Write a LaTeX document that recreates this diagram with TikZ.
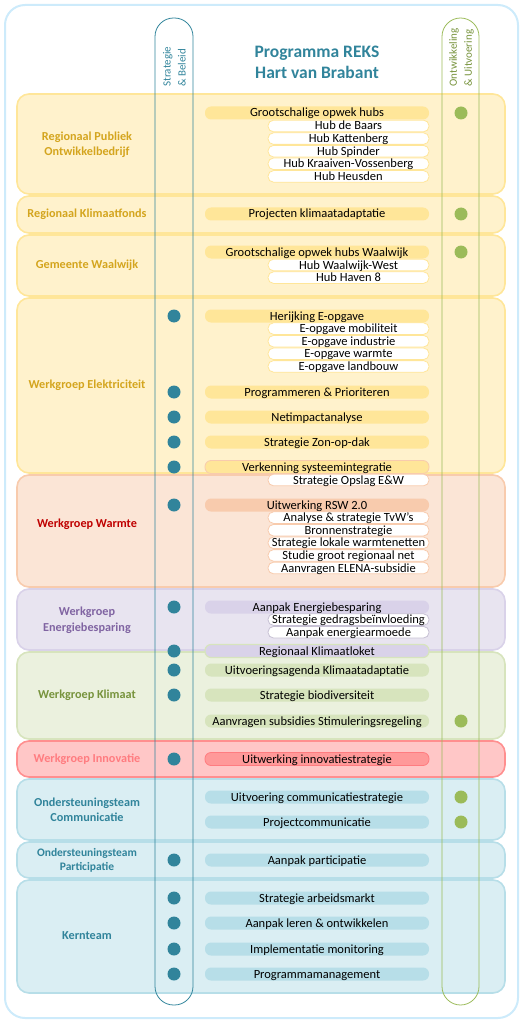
\documentclass[tikz,border=0pt]{standalone}
\usepackage{fontspec}
\setmainfont{Carlito}
\usepackage{xcolor}
\usepackage{tikz}

\definecolor{frame}{HTML}{CDEBFB}
\definecolor{reksteal}{HTML}{31849B}
\definecolor{reksgreen}{HTML}{9BBB59}
\definecolor{ylfill}{HTML}{FFF2CC}
\definecolor{ylline}{HTML}{FFE699}
\definecolor{yltext}{HTML}{D4A51E}
\definecolor{orfill}{HTML}{FBE5D6}
\definecolor{orline}{HTML}{F8CBAD}
\definecolor{lvfill}{HTML}{E8E4F0}
\definecolor{lvline}{HTML}{D9D2E9}
\definecolor{lvtext}{HTML}{8064A2}
\definecolor{gnfill}{HTML}{EBF1DE}
\definecolor{gnline}{HTML}{D7E4BD}
\definecolor{gntext}{HTML}{77933C}
\definecolor{pkfill}{HTML}{FFC7C7}
\definecolor{pkline}{HTML}{FF8F8F}
\definecolor{pkbar}{HTML}{FF9999}
\definecolor{pktext}{HTML}{FF7C80}
\definecolor{blfill}{HTML}{DAEEF3}
\definecolor{blline}{HTML}{B7DEE8}

\begin{document}
\begin{tikzpicture}[x=1pt, y=-1pt, font=\fontsize{12.5}{13}\selectfont,
    band/.style 2 args={fill=#1, draw=#2, line width=1.6pt, rounded corners=12pt},
    col/.style={draw=#1, line width=0.8pt, rounded corners=18.5pt},
    grp/.style={font=\fontsize{12.2}{15.5}\selectfont\bfseries, align=center, text=#1},
    bar/.style={fill=#1, minimum width=224pt, minimum height=13pt, inner sep=0pt,
        rounded corners=6pt, text height=9.5pt, text depth=1.5pt},
    sub/.style={fill=white, draw=#1, line width=0.8pt, minimum width=161pt,
        minimum height=11.6pt, inner sep=0pt, rounded corners=5.5pt, text height=9.5pt, text depth=1.5pt},
    sdot/.style={circle, fill=reksteal, minimum size=13pt, inner sep=0pt},
    odot/.style={circle, fill=reksgreen, minimum size=13pt, inner sep=0pt}]
\useasboundingbox (0,0) rectangle (531,1024);
% Frame
\draw[frame, line width=2pt, rounded corners=20pt] (5,5) rectangle (518,1018);
% Bands
\draw[band={ylfill}{ylline}] (17,94) rectangle (505,194);
\draw[band={ylfill}{ylline}] (17,196) rectangle (505,233);
\draw[band={ylfill}{ylline}] (17,235) rectangle (505,296);
\draw[band={ylfill}{ylline}] (17,298) rectangle (505,473);
\draw[band={orfill}{orline}] (17,475) rectangle (505,587);
\draw[band={lvfill}{lvline}] (17,589) rectangle (505,650);
\draw[band={gnfill}{gnline}] (17,652) rectangle (505,739);
\draw[band={pkfill}{pkline}] (17,741) rectangle (505,777);
\draw[band={blfill}{blline}] (17,779) rectangle (505,840);
\draw[band={blfill}{blline}] (17,842) rectangle (505,878);
\draw[band={blfill}{blline}] (17,880) rectangle (505,993);
% Columns
\draw[col=reksteal] (155,18) rectangle (193,1005);
\draw[col=reksgreen] (442,18) rectangle (479,1005);
\node[rotate=90, anchor=west, align=left, text=reksteal, font=\fontsize{11}{15}\selectfont] (strat) at (174.5,90) {Strategie\\\& Beleid};
\node[rotate=90, anchor=west, align=left, text=gntext, font=\fontsize{11}{15}\selectfont] (ontw) at (461.5,90) {Ontwikkeling\\\& Uitvoering};
\node[font=\fontsize{17.5}{21}\selectfont\bfseries, text=reksteal, align=center] (title) at (317,62) {Programma REKS\\Hart van Brabant};
% Groups
\node[grp=yltext] (g-rpo) at (87,145) {Regionaal Publiek\\Ontwikkelbedrijf};
\node[grp=yltext] (g-fonds) at (87,214) {Regionaal Klimaatfonds};
\node[grp=yltext] (g-waal) at (87,265) {Gemeente Waalwijk};
\node[grp=yltext] (g-elek) at (87,385) {Werkgroep Elektriciteit};
\node[grp=red!75!black] (g-warm) at (87,524) {Werkgroep Warmte};
\node[grp=lvtext] (g-besp) at (87,620) {Werkgroep\\Energiebesparing};
\node[grp=gntext] (g-klim) at (87,695) {Werkgroep Klimaat};
\node[grp=pktext] (g-inno) at (87,759) {Werkgroep Innovatie};
\node[grp=reksteal] (g-comm) at (87,810) {Ondersteuningsteam\\Communicatie};
\node[grp=reksteal, font=\fontsize{11.5}{14}\selectfont\bfseries] (g-part) at (87,860) {Ondersteuningsteam\\Participatie};
\node[grp=reksteal] (g-kern) at (87,936) {Kernteam};
% Regionaal Publiek Ontwikkelbedrijf
\node[bar=ylline] (b-hubs) at (317,113) {Grootschalige opwek hubs};
\node[sub=ylline] (s-baars) at (348.5,126) {Hub de Baars};
\node[sub=ylline] (s-katt) at (348.5,138.6) {Hub Kattenberg};
\node[sub=ylline] (s-spin) at (348.5,151.2) {Hub Spinder};
\node[sub=ylline] (s-kraai) at (348.5,163.8) {Hub Kraaiven-Vossenberg};
\node[sub=ylline] (s-heus) at (348.5,176.4) {Hub Heusden};
\node[odot] (o-hubs) at (461,113) {};
% Regionaal Klimaatfonds
\node[bar=ylline] (b-adapt) at (317,214) {Projecten klimaatadaptatie};
\node[odot] (o-adapt) at (461,214) {};
% Gemeente Waalwijk
\node[bar=ylline] (b-waal) at (317,252) {Grootschalige opwek hubs Waalwijk};
\node[sub=ylline] (s-west) at (348.5,265) {Hub Waalwijk-West};
\node[sub=ylline] (s-haven) at (348.5,277.6) {Hub Haven 8};
\node[odot] (o-waal) at (461,252) {};
% Werkgroep Elektriciteit
\node[bar=ylline] (b-herij) at (317,316) {Herijking E-opgave};
\node[sub=ylline] (s-mobi) at (348.5,328.6) {E-opgave mobiliteit};
\node[sub=ylline] (s-indu) at (348.5,341.2) {E-opgave industrie};
\node[sub=ylline] (s-warm) at (348.5,353.8) {E-opgave warmte};
\node[sub=ylline] (s-land) at (348.5,366.4) {E-opgave landbouw};
\node[bar=ylline] (b-prog) at (317,392) {Programmeren \& Prioriteren};
\node[bar=ylline] (b-neti) at (317,417) {Netimpactanalyse};
\node[bar=ylline] (b-zon) at (317,442) {Strategie Zon-op-dak};
\node[bar=ylline, draw=orline, line width=0.8pt] (b-verk) at (317,467) {Verkenning systeemintegratie};
\node[sub=orline] (s-opsl) at (348.5,480) {Strategie Opslag E\&W};
\node[sdot] (d-herij) at (174,316) {};
\node[sdot] (d-prog) at (174,392) {};
\node[sdot] (d-neti) at (174,417) {};
\node[sdot] (d-zon) at (174,442) {};
\node[sdot] (d-verk) at (174,467) {};
% Werkgroep Warmte
\node[bar=orline] (b-rsw) at (317,505) {Uitwerking RSW 2.0};
\node[sub=orline] (s-tvw) at (348.5,517.6) {Analyse \& strategie TvW’s};
\node[sub=orline] (s-bron) at (348.5,530.2) {Bronnenstrategie};
\node[sub=orline] (s-lok) at (348.5,542.8) {Strategie lokale warmtenetten};
\node[sub=orline] (s-groot) at (348.5,555.4) {Studie groot regionaal net};
\node[sub=orline] (s-elena) at (348.5,568) {Aanvragen ELENA-subsidie};
\node[sdot] (d-rsw) at (174,505) {};
% Werkgroep Energiebesparing
\node[bar=lvline] (b-besp) at (317,607) {Aanpak Energiebesparing};
\node[sub=lvline!80!gray] (s-gedr) at (348.5,619.6) {Strategie gedragsbeïnvloeding};
\node[sub=lvline!80!gray] (s-armo) at (348.5,632.2) {Aanpak energiearmoede};
\node[bar=lvline, draw=gnline, line width=1.2pt] (b-loket) at (317,651) {Regionaal Klimaatloket};
\node[sdot] (d-besp) at (174,607) {};
\node[sdot] (d-loket) at (174,651) {};
% Werkgroep Klimaat
\node[bar=gnline] (b-uitv) at (317,670) {Uitvoeringsagenda Klimaatadaptatie};
\node[bar=gnline] (b-bio) at (317,695) {Strategie biodiversiteit};
\node[bar=gnline] (b-stim) at (317,721) {Aanvragen subsidies Stimuleringsregeling};
\node[sdot] (d-uitv) at (174,670) {};
\node[sdot] (d-bio) at (174,695) {};
\node[odot] (o-stim) at (461,721) {};
% Werkgroep Innovatie
\node[bar=pkbar, draw=pktext, line width=0.8pt] (b-inno) at (317,759) {Uitwerking innovatiestrategie};
\node[sdot] (d-inno) at (174,759) {};
% Ondersteuningsteam Communicatie
\node[bar=blline] (b-comm) at (317,797) {Uitvoering communicatiestrategie};
\node[bar=blline] (b-proj) at (317,822) {Projectcommunicatie};
\node[odot] (o-comm) at (461,797) {};
\node[odot] (o-proj) at (461,822) {};
% Ondersteuningsteam Participatie
\node[bar=blline] (b-part) at (317,860) {Aanpak participatie};
\node[sdot] (d-part) at (174,860) {};
% Kernteam
\node[bar=blline] (b-arb) at (317,898) {Strategie arbeidsmarkt};
\node[bar=blline] (b-leren) at (317,923) {Aanpak leren \& ontwikkelen};
\node[bar=blline] (b-moni) at (317,949) {Implementatie monitoring};
\node[bar=blline] (b-pm) at (317,974) {Programmamanagement};
\node[sdot] (d-arb) at (174,898) {};
\node[sdot] (d-leren) at (174,923) {};
\node[sdot] (d-moni) at (174,949) {};
\node[sdot] (d-pm) at (174,974) {};
\end{tikzpicture}
\end{document}
